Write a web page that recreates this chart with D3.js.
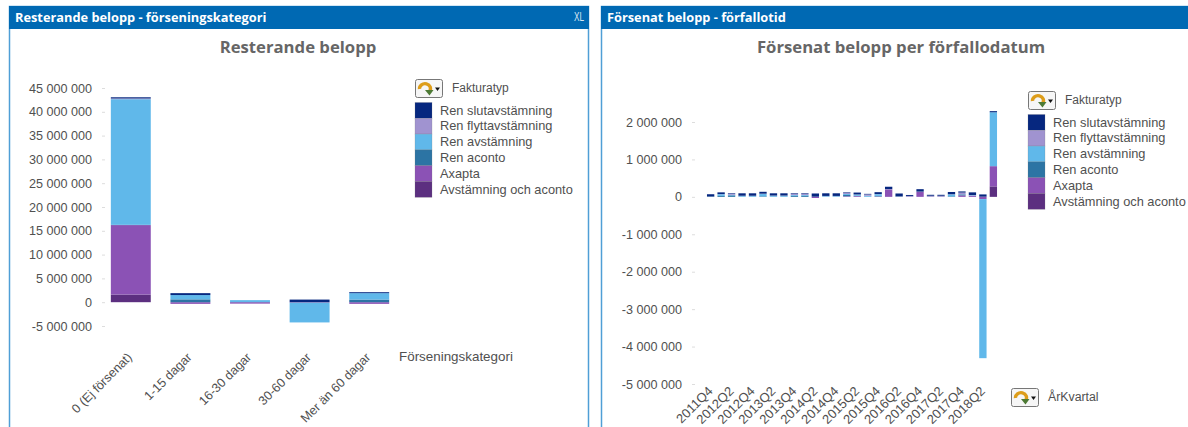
<!DOCTYPE html>
<html><head><meta charset="utf-8">
<script src="https://cdn.jsdelivr.net/npm/d3@7"></script>
<style>html,body{margin:0;padding:0;background:#fff;overflow:hidden}svg{display:block}text{font-family:"Liberation Sans",Arial,sans-serif}</style>
</head><body><svg id="c" width="1188" height="427"></svg>
<script>
const seriesNames=["Avstämning och aconto","Axapta","Ren aconto","Ren avstämning","Ren flyttavstämning","Ren slutavstämning"];
const seriesColors=["#5c2f80","#8b52b5","#2c74a4","#60b8ea","#a093d0","#06277f"];
const legendNames=["Ren slutavstämning","Ren flyttavstämning","Ren avstämning","Ren aconto","Axapta","Avstämning och aconto"];

const catsA=["0 (Ej försenat)","1-15 dagar","16-30 dagar","30-60 dagar","Mer än 60 dagar"];
const aAvstAconto=[1600000,0,0,0,0];
const aAxapta=[14600000,-350000,-300000,-100000,-350000];
const aAconto=[50000,600000,30000,0,550000];
const aAvst=[26400000,900000,400000,-4150000,1350000];
const aFlytt=[150000,0,0,0,0];
const aSlut=[250000,400000,0,550000,200000];
const ticksA=[45000000,40000000,35000000,30000000,25000000,20000000,15000000,10000000,5000000,0,-5000000];

const catsB=["2011Q4","2012Q1","2012Q2","2012Q3","2012Q4","2013Q1","2013Q2","2013Q3","2013Q4","2014Q1","2014Q2","2014Q3","2014Q4","2015Q1","2015Q2","2015Q3","2015Q4","2016Q1","2016Q2","2016Q3","2016Q4","2017Q1","2017Q2","2017Q3","2017Q4","2018Q1","2018Q2","2018Q3"];
const bAvstAconto=[0,0,0,0,0,0,0,0,0,0,0,0,0,0,0,0,0,0,0,0,0,0,0,0,0,0,0,280000];
const bAxapta=[0,0,0,0,0,0,0,0,0,0,-30000,0,0,15000,20000,0,10000,200000,0,10000,130000,10000,10000,0,40000,30000,-60000,540000];
const bAconto=[10000,25000,40000,5000,5000,15000,5000,5000,30000,30000,0,5000,5000,35000,10000,5000,15000,5000,10000,5000,0,5000,5000,15000,25000,5000,0,0];
const bAvst=[0,45000,15000,20000,20000,60000,25000,25000,20000,20000,5000,15000,15000,25000,30000,25000,45000,0,0,0,0,0,0,50000,5000,10000,-4250000,1440000];
const bFlytt=[0,5000,30000,5000,5000,10000,5000,5000,35000,35000,0,5000,5000,30000,5000,35000,5000,5000,5000,10000,10000,15000,15000,5000,45000,5000,5000,0];
const bSlut=[60000,45000,15000,65000,65000,50000,60000,60000,15000,15000,85000,70000,70000,15000,50000,15000,50000,60000,75000,25000,65000,25000,25000,60000,30000,70000,60000,30000];
const ticksB=[2000000,1000000,0,-1000000,-2000000,-3000000,-4000000,-5000000];
const shownB=catsB.filter((d,i)=>i%2===0);

const svg=d3.select("#c");
const fmt=v=>d3.format(",")(v).replace(/,/g," ").replace("−","-");
const txt="#505050";

function panel(x,w,title){
  const g=svg.append("g");
  g.append("rect").attr("x",x+.5).attr("y",6.5).attr("width",w).attr("height",440).attr("fill","#fff").attr("stroke","#4f9fd6").attr("stroke-width",1.5);
  g.append("rect").attr("x",x).attr("y",6).attr("width",w+1).attr("height",23).attr("fill","#0069b3");
  g.append("text").attr("x",x+6).attr("y",22).attr("fill","#fff").attr("font-size",12.8).attr("font-weight",700)
    .style("font-family","'Open Sans',sans-serif").text(title);
}
function icon(x,y){
  const g=svg.append("g").attr("transform",`translate(${x},${y})`);
  g.append("rect").attr("x",.5).attr("y",.5).attr("width",27).attr("height",18).attr("rx",2).attr("fill","#f6f6f6").attr("stroke","#777");
  g.append("path").attr("d","M4.5 10 A5.5 5 0 1 1 14.5 12.5").attr("fill","none").attr("stroke","#dd9d1a").attr("stroke-width",3.4);
  g.append("path").attr("d","M10 11 L18.5 11 L14.5 16.5 Z").attr("fill","#4d7a35");
  g.append("path").attr("d","M20 8.5 L25 8.5 L22.5 12 Z").attr("fill","#111");
}
function legend(x,y,iconY,textY){
  icon(x,iconY);
  svg.append("text").attr("x",x+37).attr("y",textY).attr("font-size",12).attr("fill",txt).text("Fakturatyp");
  const h=15.8;
  legendNames.forEach((n,i)=>{
    svg.append("rect").attr("x",x).attr("y",y+i*h).attr("width",17).attr("height",h)
      .attr("fill",seriesColors[seriesNames.indexOf(n)]).attr("stroke","#777").attr("stroke-opacity",.35).attr("stroke-width",.6);
    svg.append("text").attr("x",x+25).attr("y",y+i*h+12).attr("font-size",12.8).attr("fill",txt).text(n);
  });
}
function chart(cfg){
  const y=d3.scaleLinear().domain(cfg.domain).range(cfg.yRange);
  const x=d3.scaleBand().domain(cfg.cats).range(cfg.xRange).paddingInner(cfg.pad).paddingOuter(cfg.pad/2);
  const rows=cfg.cats.map((c,i)=>{const r={cat:c};seriesNames.forEach((n,k)=>r[n]=cfg.series[k][i]);return r;});
  const stacked=d3.stack().keys(seriesNames).offset(d3.stackOffsetDiverging)(rows);
  const g=svg.append("g");
  g.selectAll("g.s").data(stacked).join("g").attr("fill",(d,i)=>seriesColors[i])
    .selectAll("rect").data(d=>d).join("rect")
    .attr("x",d=>x(d.data.cat)).attr("width",x.bandwidth())
    .attr("y",d=>y(Math.max(d[0],d[1]))).attr("height",d=>Math.abs(y(d[0])-y(d[1])));
  const ya=d3.axisLeft(y).tickValues(cfg.ticks).tickSize(3).tickPadding(cfg.tickPad).tickFormat(fmt);
  const ag=svg.append("g").attr("transform",`translate(${cfg.axisX},0)`).call(ya);
  ag.select(".domain").remove();
  ag.selectAll("line").attr("stroke","#ddd");
  ag.selectAll("text").attr("font-size",12.6).attr("fill",txt).style("font-family","'Liberation Sans',sans-serif");
  const xa=d3.axisBottom(x).tickValues(cfg.shown).tickSize(0).tickFormat(d=>d);
  const xg=svg.append("g").attr("transform",`translate(0,${cfg.labelY})`).call(xa);
  xg.select(".domain").remove();
  xg.selectAll("text").attr("font-size",cfg.xFont).attr("fill",txt).attr("text-anchor","end")
    .attr("dy",0).attr("y",0).attr("x",0)
    .attr("transform",`translate(${cfg.labelDx},0) rotate(-45)`).style("font-family","'Liberation Sans',sans-serif");
}

panel(9,579,"Resterande belopp - förseningskategori");
panel(601,600,"Försenat belopp - förfallotid");
svg.append("text").attr("x",574).attr("y",21).attr("fill","#d8e6f2").attr("font-size",13).attr("textLength",10).attr("lengthAdjust","spacingAndGlyphs").text("XL");

const titleStyle=s=>s.attr("text-anchor","middle").attr("font-size",16.7).attr("font-weight",700).attr("fill","#666").style("font-family","'Open Sans',sans-serif");
svg.append("text").attr("x",298).attr("y",53).call(titleStyle).text("Resterande belopp");
svg.append("text").attr("x",901).attr("y",53).call(titleStyle).text("Försenat belopp per förfallodatum");

chart({cats:catsA,shown:catsA,series:[aAvstAconto,aAxapta,aAconto,aAvst,aFlytt,aSlut],domain:[-5000000,45000000],yRange:[326,88],
  xRange:[101,399],pad:.33,ticks:ticksA,axisX:105,tickPad:10,labelY:358,labelDx:2,xFont:12.6});
chart({cats:catsB,shown:shownB,series:[bAvstAconto,bAxapta,bAconto,bAvst,bFlytt,bSlut],domain:[-5000000,2000000],yRange:[384,122],
  xRange:[705.4,998.6],pad:.3,ticks:ticksB,axisX:695,tickPad:10,labelY:392,labelDx:3,xFont:13});

legend(415,102.5,79,92);
legend(1028,114.5,91,104);
svg.append("text").attr("x",399).attr("y",361).attr("font-size",13.4).attr("fill",txt).text("Förseningskategori");
icon(1011,388);
svg.append("text").attr("x",1048).attr("y",401).attr("font-size",12.3).attr("fill",txt).text("ÅrKvartal");
</script></body></html>
